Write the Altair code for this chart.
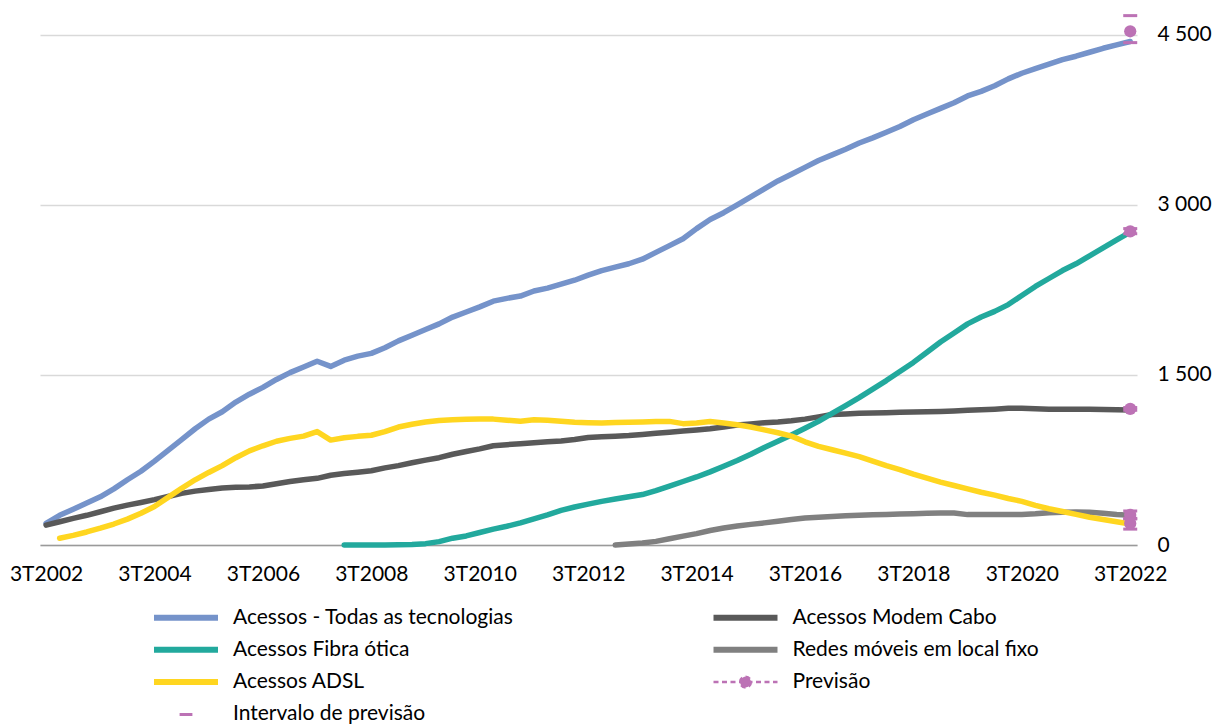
import altair as alt
import pandas as pd

# quarter index 0 = 3T2002 ... 80 = 3T2022
series_names = [
    "Acessos - Todas as tecnologias",
    "Acessos Modem Cabo",
    "Acessos Fibra ótica",
    "Redes móveis em local fixo",
    "Acessos ADSL",
    "Previsão",
    "Intervalo de previsão",
]
series_colors = ["#7593CA", "#595959", "#22A99D", "#808080", "#FFD620", "#BC72B5", "#BC72B5"]

todas = [
    190, 262, 315, 370, 425, 495, 575, 650, 740, 835,
    930, 1025, 1110, 1175, 1260, 1330, 1390, 1460, 1520, 1570,
    1620, 1575, 1630, 1665, 1690, 1740, 1800, 1850, 1900, 1950,
    2010, 2055, 2100, 2150, 2175, 2195, 2240, 2265, 2300, 2335,
    2380, 2420, 2450, 2480, 2520, 2580, 2640, 2700, 2790, 2870,
    2930, 3000, 3070, 3140, 3210, 3270, 3330, 3390, 3440, 3490,
    3545, 3590, 3640, 3690, 3750, 3800, 3850, 3900, 3960, 4000,
    4050, 4110, 4160, 4200, 4240, 4280, 4310, 4345, 4380, 4410,
    4440,
]
modem = [
    175, 205, 235, 262, 293, 325, 352, 375, 400, 428,
    455, 475, 490, 503, 510, 512, 520, 540, 560, 575,
    588, 615, 630, 642, 655, 680, 700, 725, 748, 770,
    800, 825, 848, 875, 885, 893, 902, 910, 918, 930,
    948, 955, 960, 965, 975, 985, 995, 1005, 1015, 1025,
    1040, 1058, 1068, 1078, 1085, 1095, 1110, 1130, 1150, 1155,
    1162, 1165, 1167, 1170, 1173, 1176, 1178, 1182, 1188, 1193,
    1198, 1205, 1205, 1202, 1198, 1197, 1197, 1197, 1195, 1193,
    1190,
]
fibra = [None] * 22 + [
    0, 0, 0, 0, 2, 5, 12, 30,
    60, 80, 110, 140, 165, 195, 230, 265, 305, 335,
    360, 385, 405, 425, 445, 480, 520, 560, 600, 645,
    695, 745, 800, 860, 915, 970, 1030, 1090, 1160, 1230,
    1300, 1375, 1450, 1530, 1610, 1700, 1790, 1870, 1950, 2010,
    2060, 2120, 2200, 2280, 2350, 2420, 2480, 2550, 2620, 2690,
    2760,
]
redes = [None] * 42 + [
    0, 8, 18, 32, 55, 78, 100, 128,
    150, 168, 182, 195, 210, 225, 238, 245, 252, 258,
    262, 266, 270, 273, 276, 280, 283, 282, 268, 268,
    270, 270, 270, 275, 285, 288, 290, 288, 280, 268,
    262,
]
adsl = [None] + [
    60, 85, 115, 148, 185, 228, 280, 340, 420,
    500, 575, 640, 700, 770, 830, 875, 915, 940, 960,
    1000, 925, 945, 958, 968, 1000, 1040, 1065, 1085, 1098,
    1104, 1108, 1110, 1110, 1100, 1092, 1104, 1100, 1092, 1083,
    1078, 1075, 1080, 1083, 1085, 1088, 1090, 1070, 1075, 1089,
    1075, 1060, 1040, 1015, 990, 960, 910, 870, 840, 810,
    780, 740, 700, 665, 625, 590, 555, 525, 495, 465,
    440, 410, 385, 350, 320, 295, 270, 245, 225, 205,
    185,
]

# forecasts at the last quarter (index 80)
forecast_quarter = 80
forecast_values = [4530, 2765, 1200, 265, 190]
interval_low = [4430, 2745, 1188, 230, 140]
interval_high = [4668, 2790, 1212, 300, 235]

x_ticks = [0, 8, 16, 24, 32, 40, 48, 56, 64, 72, 80]
y_ticks = [0, 1500, 3000, 4500]

rows = []
for name, vals in zip(series_names[:5], [todas, modem, fibra, redes, adsl]):
    for i, v in enumerate(vals):
        if v is not None:
            rows.append({"serie": name, "q": i, "valor": v})
df_lines = pd.DataFrame(rows)

df_prev = pd.DataFrame({"q": [forecast_quarter] * len(forecast_values), "valor": forecast_values})
df_int = pd.DataFrame({
    "q": [forecast_quarter] * (2 * len(interval_low)),
    "valor": interval_low + interval_high,
})

PINK = "#BC72B5"
FONT = "Lato"

x_enc = alt.X(
    "q:Q",
    scale=alt.Scale(domain=[-0.45, 80.5], nice=False, zero=False),
    axis=alt.Axis(
        values=x_ticks,
        labelExpr="'3T' + (2002 + datum.value / 4)",
        title=None,
        grid=False,
        ticks=False,
        domain=True,
        domainColor="#9A9A9A",
        domainWidth=1.5,
        labelFont=FONT,
        labelFontSize=21,
        labelColor="#000000",
        labelPadding=18,
        labelOverlap=False,
        labelFlush=False,
    ),
)
y_enc = alt.Y(
    "valor:Q",
    scale=alt.Scale(domain=[0, 4700], nice=False),
    axis=alt.Axis(
        orient="right",
        values=y_ticks,
        labelExpr="replace(format(datum.value, ','), ',', ' ')",
        title=None,
        grid=True,
        gridColor="#D9D9D9",
        gridWidth=1.5,
        ticks=False,
        domain=False,
        labelFont=FONT,
        labelFontSize=21,
        labelColor="#000000",
        labelAlign="left",
        labelPadding=20,
    ),
)

sym_shape = (
    "datum.label == 'Previsão' ? "
    "'M-1,0L1,0M0.17,0A0.17,0.17,0,1,1,-0.17,0A0.17,0.17,0,1,1,0.17,0Z' : "
    "(datum.label == 'Intervalo de previsão' ? 'M-0.2,0L0.2,0' : 'M-1,0L1,0')"
)

legend = alt.Legend(
    orient="none",
    legendX=135.5,
    legendY=595,
    columns=2,
    direction="horizontal",
    gridAlign="all",
    title=None,
    padding=0,
    labelFont=FONT,
    labelFontSize=21,
    labelColor="#000000",
    labelLimit=500,
    labelOffset=36.5,
    symbolSize=4096,
    symbolType={"expr": sym_shape},
    symbolDash={"expr": "datum.label == 'Previsão' ? [5, 3.5] : [1, 0]"},
    symbolStrokeWidth={"expr": "datum.label == 'Previsão' ? 2.5 : (datum.label == 'Intervalo de previsão' ? 3 : 6)"},
    symbolFillColor={"expr": "datum.label == 'Previsão' ? '#BC72B5' : 'transparent'"},
    symbolOpacity=1,
    rowPadding=7.3,
    columnPadding=187.5,
)

lines = alt.Chart(df_lines).mark_line(strokeWidth=5.5, strokeCap="round", strokeJoin="round").encode(
    x=x_enc,
    y=y_enc,
    color=alt.Color("serie:N", scale=alt.Scale(domain=series_names, range=series_colors), legend=legend),
)

caps = alt.Chart(df_int).mark_tick(orient="horizontal", size=14, thickness=3, color=PINK, opacity=1).encode(
    x="q:Q", y="valor:Q"
)
points = alt.Chart(df_prev).mark_circle(size=150, color=PINK, opacity=1).encode(
    x="q:Q", y="valor:Q"
)

chart = alt.layer(lines, caps, points).properties(
    width=1097,
    height=533,
    padding={"left": 40, "top": 12, "right": 85, "bottom": 179},
    autosize="none",
    background="white",
).configure_view(stroke=None)

chart.save("out.html", embed_options={"renderer": "svg", "actions": False})
